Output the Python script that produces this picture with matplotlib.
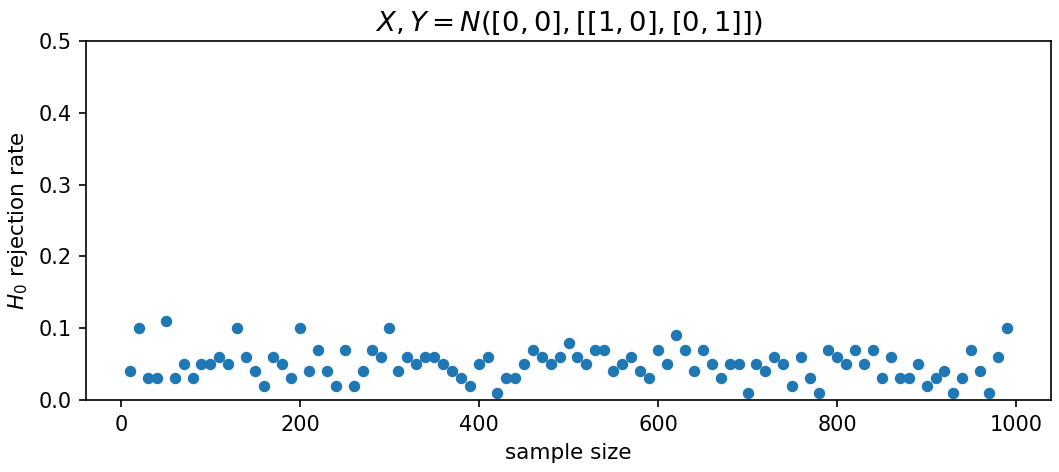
import matplotlib
matplotlib.use("Agg")
import matplotlib.pyplot as plt

sample_sizes = list(range(10, 1000, 10))
rejection_rate = [
    0.04, 0.10, 0.03, 0.03, 0.11, 0.03, 0.05, 0.03, 0.05, 0.05,
    0.06, 0.05, 0.10, 0.06, 0.04, 0.02, 0.06, 0.05, 0.03, 0.10,
    0.04, 0.07, 0.04, 0.02, 0.07, 0.02, 0.04, 0.07, 0.06, 0.10,
    0.04, 0.06, 0.05, 0.06, 0.06, 0.05, 0.04, 0.03, 0.02, 0.05,
    0.06, 0.01, 0.03, 0.03, 0.05, 0.07, 0.06, 0.05, 0.06, 0.08,
    0.06, 0.05, 0.07, 0.07, 0.04, 0.05, 0.06, 0.04, 0.03, 0.07,
    0.05, 0.09, 0.07, 0.04, 0.07, 0.05, 0.03, 0.05, 0.05, 0.01,
    0.05, 0.04, 0.06, 0.05, 0.02, 0.06, 0.03, 0.01, 0.07, 0.06,
    0.05, 0.07, 0.05, 0.07, 0.03, 0.06, 0.03, 0.03, 0.05, 0.02,
    0.03, 0.04, 0.01, 0.03, 0.07, 0.04, 0.01, 0.06, 0.10,
]

fig = plt.figure(figsize=(1059 / 150, 472 / 150), dpi=150)
ax = fig.add_axes([86 / 1059, 1 - 400 / 472, (1051 - 86) / 1059, (400 - 41) / 472])
ax.scatter(sample_sizes, rejection_rate, s=20, color="#1f77b4")
ax.set_ylim(0, 0.5)
ax.set_xlabel("sample size", fontsize=10.3)
ax.set_ylabel("$H_0$ rejection rate", fontsize=10.3)
ax.set_title("$X, Y = N([0, 0], [[1, 0], [0, 1]])$", fontsize=13.2, pad=5)
fig.savefig("out.png", dpi=150)
